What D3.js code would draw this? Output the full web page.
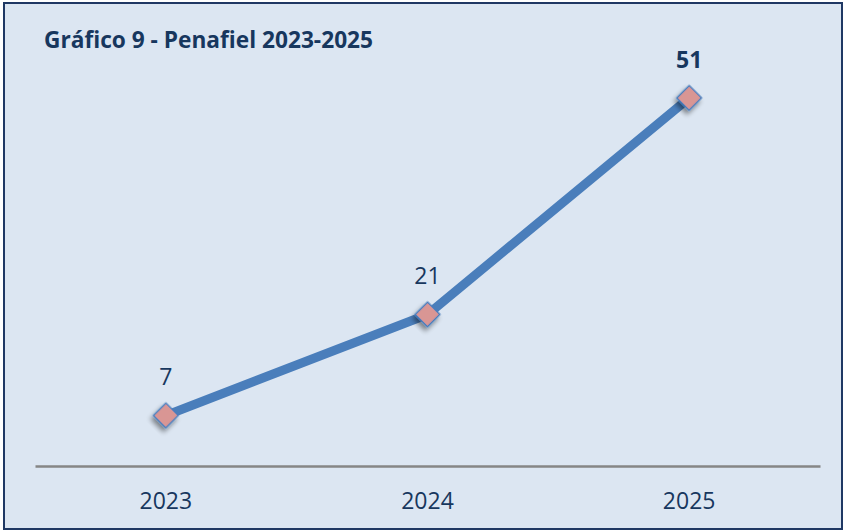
<!DOCTYPE html>
<html>
<head>
<meta charset="utf-8">
<script src="https://d3js.org/d3.v7.min.js"></script>
<style>
  body { margin: 0; background: #fff; }
  text { font-family: "Open Sans", sans-serif; }
</style>
</head>
<body>
<svg id="svg"></svg>
<script>
  // data
  let years = ['2023', '2024', '2025'];
  let values = [7, 21, 51];
  let boldLabel = [false, false, true];

  let width = 846;
  let height = 532;

  let svg = d3.select('#svg')
    .attr('width', width)
    .attr('height', height);

  let defs = svg.append('defs');
  let shadow = defs.append('filter').attr('id', 'shadow')
    .attr('x', '-50%').attr('y', '-50%').attr('width', '200%').attr('height', '200%');
  shadow.append('feGaussianBlur').attr('in', 'SourceAlpha').attr('stdDeviation', 2.5);
  shadow.append('feOffset').attr('dx', 1).attr('dy', 4).attr('result', 'off');
  shadow.append('feComponentTransfer').append('feFuncA').attr('type', 'linear').attr('slope', 0.45);
  let merge = shadow.append('feMerge');
  merge.append('feMergeNode');
  merge.append('feMergeNode').attr('in', 'SourceGraphic');

  // chart box
  svg.append('rect')
    .attr('x', 4).attr('y', 3)
    .attr('width', width - 8).attr('height', height - 6)
    .attr('fill', '#dce6f2')
    .attr('stroke', '#1f3864')
    .attr('stroke-width', 2);

  svg.append('text')
    .attr('x', 44).attr('y', 48)
    .attr('fill', '#17375e')
    .attr('font-size', 22.7)
    .attr('font-weight', 'bold')
    .text('Gráfico 9 - Penafiel 2023-2025');

  let x = d3.scaleBand()
    .domain(years)
    .range([35, 820]);

  let y = d3.scaleLinear()
    .domain([0, 60])
    .range([466, 33]);

  let cx = d => x(d) + x.bandwidth() / 2;

  // axis
  let xAxis = svg.append('g')
    .attr('transform', 'translate(0,' + y(0) + ')')
    .call(d3.axisBottom(x).tickSize(0).tickPadding(26));
  xAxis.select('.domain').attr('stroke', '#868686').attr('stroke-width', 2.5);
  xAxis.selectAll('text')
    .attr('fill', '#17375e')
    .attr('font-size', 23)
    .attr('dy', null)
    .attr('y', 43)
    .style('font-family', '"Open Sans", sans-serif');

  let line = d3.line()
    .x((d, i) => cx(years[i]))
    .y(d => y(d));

  svg.append('path')
    .datum(values)
    .attr('d', line)
    .attr('fill', 'none')
    .attr('stroke', '#4a7ebb')
    .attr('stroke-width', 9)
    .attr('stroke-linejoin', 'round');

  let diamond = d3.symbol().type(d3.symbolSquare).size(300);

  svg.selectAll('.marker')
    .data(values)
    .enter()
    .append('path')
    .attr('class', 'marker')
    .attr('d', diamond)
    .attr('transform', (d, i) => `translate(${cx(years[i])},${y(d)}) rotate(45)`)
    .attr('fill', '#d99694')
    .attr('stroke', '#4a7ebb')
    .attr('stroke-width', 1.5)
    .attr('filter', 'url(#shadow)');

  svg.selectAll('.label')
    .data(values)
    .enter()
    .append('text')
    .attr('class', 'label')
    .attr('x', (d, i) => cx(years[i]))
    .attr('y', d => y(d) - 30)
    .attr('text-anchor', 'middle')
    .attr('fill', '#17375e')
    .attr('font-size', 23)
    .attr('font-weight', (d, i) => boldLabel[i] ? 'bold' : 'normal')
    .text(d => d);
</script>
</body>
</html>
